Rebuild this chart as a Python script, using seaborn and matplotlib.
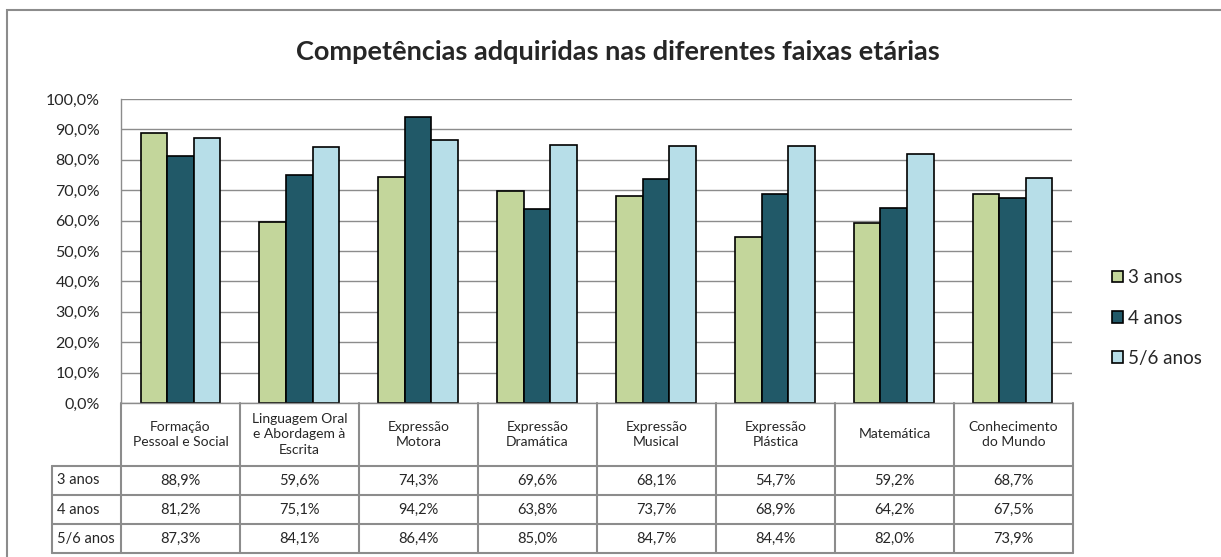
import matplotlib
matplotlib.use("Agg")
import matplotlib.pyplot as plt
import matplotlib.patches as mpatches
import numpy as np
import pandas as pd
import seaborn as sns

# dados
categorias = ["Formação\nPessoal e Social", "Linguagem Oral\ne Abordagem à\nEscrita",
              "Expressão\nMotora", "Expressão\nDramática", "Expressão\nMusical",
              "Expressão\nPlástica", "Matemática", "Conhecimento\ndo Mundo"]
grupos = ["3 anos", "4 anos", "5/6 anos"]
v_3anos = [88.9, 59.6, 74.3, 69.6, 68.1, 54.7, 59.2, 68.7]
v_4anos = [81.2, 75.1, 94.2, 63.8, 73.7, 68.9, 64.2, 67.5]
v_56anos = [87.3, 84.1, 86.4, 85.0, 84.7, 84.4, 82.0, 73.9]
yticks = [0, 10, 20, 30, 40, 50, 60, 70, 80, 90, 100]

cores = ["#C3D69B", "#215968", "#B7DEE8"]
cinza = "#8c8c8c"

series = [v_3anos, v_4anos, v_56anos]
df = pd.DataFrame({
    "cat": np.tile(categorias, len(grupos)),
    "grupo": np.repeat(grupos, len(categorias)),
    "valor": np.concatenate(series),
})

sns.set_theme(style="white")
plt.rcParams["font.family"] = ["Lato", "DejaVu Sans"]

W, H = 1221, 557
fig = plt.figure(figsize=(W / 100, H / 100), dpi=100)

def px(l, t, r, b):
    return [l / W, 1 - b / H, (r - l) / W, (b - t) / H]

ax = fig.add_axes(px(121, 99, 1072, 403))
sns.barplot(data=df, x="cat", y="valor", hue="grupo", order=categorias,
            hue_order=grupos, palette=cores, width=0.67, edgecolor="black",
            linewidth=1.2, saturation=1, ax=ax)
ax.set_ylim(0, 100)
ax.set_xlim(-0.5, len(categorias) - 0.5)
ax.set_yticks(yticks)
ax.set_yticklabels([f"{v:.1f}%".replace(".", ",") for v in yticks], fontsize=11.5)
ax.set_xticks([])
ax.set_xlabel("")
ax.set_ylabel("")
ax.yaxis.grid(True, color=cinza, lw=1)
ax.set_axisbelow(True)
ax.tick_params(axis="y", length=6, color=cinza, width=1, pad=9)
for s in ["top", "right"]:
    ax.spines[s].set_visible(False)
for s in ["left", "bottom"]:
    ax.spines[s].set_color(cinza)
    ax.spines[s].set_linewidth(1)

handles, labels = ax.get_legend_handles_labels()
ax.get_legend().remove()
fig.legend(handles, labels, loc="center left",
           bbox_to_anchor=(1112 / W, 1 - 318 / H), bbox_transform=fig.transFigure,
           frameon=False, fontsize=13.5, handlelength=0.6, handleheight=0.6,
           labelspacing=1.25, handletextpad=0.25, borderpad=0, borderaxespad=0)

# tabela de dados
w0 = (121 - 52) / 119.0
tab = fig.add_axes(px(52, 403, 1073, 553))
tab.set_xlim(-0.5 - w0, len(categorias) - 0.5)
tab.set_ylim(150, 0)
tab.axis("off")
linhas_y = [63, 92, 121, 150]
lw_t = 1.5
for i in range(len(categorias) + 1):
    tab.plot([i - 0.5, i - 0.5], [0, 150], color=cinza, lw=lw_t, clip_on=False)
tab.plot([-0.5 - w0, -0.5 - w0], [63, 150], color=cinza, lw=lw_t, clip_on=False)
for y in linhas_y:
    tab.plot([-0.5 - w0, len(categorias) - 0.5], [y, y], color=cinza, lw=lw_t, clip_on=False)
for i, c in enumerate(categorias):
    tab.text(i, 31.5, c, ha="center", va="center", fontsize=10, linespacing=1.35)
for r, (g, vals) in enumerate(zip(grupos, series)):
    yc = (linhas_y[r] + linhas_y[r + 1]) / 2
    tab.text(-0.5 - w0 + 0.04, yc, g, ha="left", va="center", fontsize=10.5)
    for i, v in enumerate(vals):
        tab.text(i, yc, f"{v:.1f}%".replace(".", ","), ha="center", va="center", fontsize=10.5)

fig.text(618 / W, 1 - 52 / H, "Competências adquiridas nas diferentes faixas etárias",
         ha="center", va="center", fontsize=19.5, fontweight="bold")

fig.patches.append(mpatches.Rectangle((7 / W, -0.05), 1.2, 1 - 10 / H + 0.05,
                                      transform=fig.transFigure, fill=False,
                                      edgecolor=cinza, lw=1.5))

fig.savefig("out.png", dpi=100)
